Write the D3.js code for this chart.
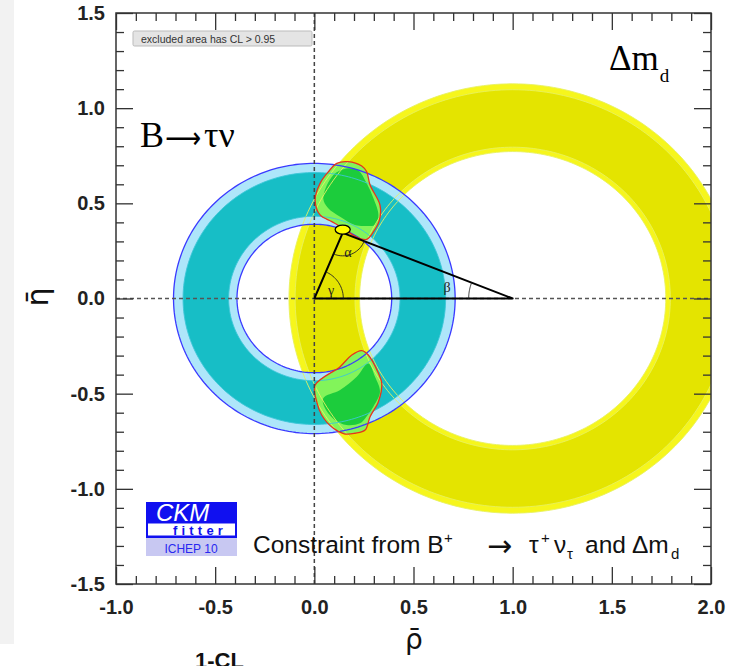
<!DOCTYPE html>
<html>
<head>
<meta charset="utf-8">
<script src="https://cdn.jsdelivr.net/npm/d3@7"></script>
<style>
  body { margin: 0; background: #fff; }
  svg { display: block; }
  .axis text { font-family: "Liberation Sans", Arial, sans-serif; font-weight: bold; font-size: 20px; fill: #222; }
  .axis line { stroke: #333; stroke-width: 1.3; }
</style>
</head>
<body>
<div id="chart"></div>
<script>
// axis ticks
var rhoTicks = [-1.0, -0.5, 0.0, 0.5, 1.0, 1.5, 2.0];
var etaTicks = [-1.5, -1.0, -0.5, 0.0, 0.5, 1.0, 1.5];

// ring constraints: [2sig inner, 1sig inner, 1sig outer, 2sig outer]
var btaunuCenter = [0, 0];
var btaunuRadii = [0.39, 0.432, 0.662, 0.71];
var dmdCenter = [1, 0];
var dmdRadii = [0.772, 0.795, 1.097, 1.128];

// global fit apex and its error ellipse (half widths)
var apex = [0.143, 0.345];
var apexErr = [0.038, 0.024];

// global fit regions (rho, eta)
var upperOuter = [[0.113, 0.710], [0.170, 0.719], [0.239, 0.696], [0.264, 0.666], [0.281, 0.596],
  [0.331, 0.491], [0.328, 0.412], [0.298, 0.351], [0.264, 0.311], [0.214, 0.322], [0.146, 0.369],
  [0.088, 0.404], [0.029, 0.439], [0.004, 0.518], [0.029, 0.605], [0.071, 0.666]];
var upperInner = [[0.045, 0.527], [0.096, 0.649], [0.171, 0.684], [0.222, 0.672], [0.264, 0.605],
  [0.298, 0.527], [0.323, 0.439], [0.306, 0.386], [0.264, 0.381], [0.205, 0.386], [0.130, 0.430],
  [0.069, 0.476]];
var lowerOuter = [[0.004, -0.455], [0.130, -0.358], [0.189, -0.297], [0.239, -0.274], [0.272, -0.297],
  [0.323, -0.393], [0.340, -0.446], [0.323, -0.542], [0.281, -0.621], [0.256, -0.691], [0.205, -0.708],
  [0.155, -0.712], [0.096, -0.682], [0.037, -0.612], [0.012, -0.542]];
var lowerInner = [[0.045, -0.524], [0.130, -0.481], [0.214, -0.411], [0.272, -0.341], [0.306, -0.411],
  [0.331, -0.490], [0.298, -0.568], [0.256, -0.630], [0.230, -0.656], [0.163, -0.665], [0.104, -0.638],
  [0.054, -0.577]];

var W = 736, H = 666;
var frame = { left: 116, right: 711, top: 13, bottom: 584 };

var svg = d3.select("#chart").append("svg")
  .attr("width", W)
  .attr("height", H);

// slide background strip on the left
svg.append("rect").attr("x", 0).attr("y", 0).attr("width", 14).attr("height", 644).attr("fill", "#f2f2f2");

var x = d3.scaleLinear().domain([-1, 2]).range([frame.left, frame.right]);
var y = d3.scaleLinear().domain([-1.5, 1.5]).range([frame.bottom, frame.top]);

svg.append("defs").append("clipPath").attr("id", "plotclip")
  .append("rect")
  .attr("x", frame.left).attr("y", frame.top)
  .attr("width", frame.right - frame.left).attr("height", frame.bottom - frame.top);

var plot = svg.append("g").attr("clip-path", "url(#plotclip)");

function circlePath(c, r) {
  var pts = d3.range(0, 360, 1.5).map(function(a) {
    var t = a * Math.PI / 180;
    return [x(c[0] + r * Math.cos(t)), y(c[1] + r * Math.sin(t))];
  });
  return d3.line()(pts) + "Z";
}
function ringPath(c, r0, r1) {
  return circlePath(c, r1) + circlePath(c, r0);
}
var blob = d3.line()
  .x(function(d) { return x(d[0]); })
  .y(function(d) { return y(d[1]); })
  .curve(d3.curveCatmullRomClosed);

// Delta m_d ring
plot.append("path").attr("d", ringPath(dmdCenter, dmdRadii[0], dmdRadii[3]))
  .attr("fill", "#f6f61c").attr("fill-rule", "evenodd");
plot.append("path").attr("d", ringPath(dmdCenter, dmdRadii[1], dmdRadii[2]))
  .attr("fill", "#e4e400").attr("fill-rule", "evenodd");

// B -> tau nu ring
plot.append("path").attr("d", ringPath(btaunuCenter, btaunuRadii[0], btaunuRadii[3]))
  .attr("fill", "#aee6fa").attr("fill-rule", "evenodd");
plot.append("path").attr("d", ringPath(btaunuCenter, btaunuRadii[1], btaunuRadii[2]))
  .attr("fill", "#17bec6").attr("fill-rule", "evenodd");

// global fit regions
[upperOuter, lowerOuter].forEach(function(p) {
  plot.append("path").attr("d", blob(p)).attr("fill", "#82f45a");
});
[upperInner, lowerInner].forEach(function(p) {
  plot.append("path").attr("d", blob(p)).attr("fill", "#1ccc3c");
});

// contour lines
dmdRadii.forEach(function(r) {
  plot.append("path").attr("d", circlePath(dmdCenter, r))
    .attr("fill", "none").attr("stroke", "#e8f060").attr("stroke-width", 0.9);
});
[btaunuRadii[1], btaunuRadii[2]].forEach(function(r) {
  plot.append("path").attr("d", circlePath(btaunuCenter, r))
    .attr("fill", "none").attr("stroke", "#3cc6d8").attr("stroke-width", 0.9);
});
[btaunuRadii[0], btaunuRadii[3]].forEach(function(r) {
  plot.append("path").attr("d", circlePath(btaunuCenter, r))
    .attr("fill", "none").attr("stroke", "#3a3aff").attr("stroke-width", 1.3);
});
[upperOuter, lowerOuter].forEach(function(p) {
  plot.append("path").attr("d", blob(p)).attr("fill", "none")
    .attr("stroke", "#e8331c").attr("stroke-width", 1.3);
});

// dashed axes
plot.append("line").attr("x1", x(0)).attr("x2", x(0)).attr("y1", frame.top).attr("y2", frame.bottom)
  .attr("stroke", "#444").attr("stroke-width", 1.5).attr("stroke-dasharray", "4,3");
plot.append("line").attr("x1", frame.left).attr("x2", frame.right).attr("y1", y(0)).attr("y2", y(0))
  .attr("stroke", "#555").attr("stroke-width", 1.5).attr("stroke-dasharray", "4,3");

// unitarity triangle
var tri = [[0, 0], [1, 0], apex];
plot.append("path")
  .attr("d", d3.line().x(function(d) { return x(d[0]); }).y(function(d) { return y(d[1]); })(tri) + "Z")
  .attr("fill", "none").attr("stroke", "#000").attr("stroke-width", 2).attr("stroke-linejoin", "round");

// angle arcs
function angleArc(c, rpx, a0, a1) {
  var cx = x(c[0]), cy = y(c[1]);
  var pts = d3.range(0, 1.0001, 0.05).map(function(f) {
    var a = a0 + (a1 - a0) * f;
    return [cx + rpx * Math.cos(a), cy - rpx * Math.sin(a)];
  });
  return d3.line()(pts);
}
function pxAngle(from, to) {
  return Math.atan2(y(from[1]) - y(to[1]), x(to[0]) - x(from[0]));
}
var gArc = plot.append("g").attr("fill", "none").attr("stroke", "#222").attr("stroke-width", 0.9);
gArc.append("path").attr("d", angleArc([0, 0], 29, 0, pxAngle([0, 0], apex)));
gArc.append("path").attr("d", angleArc([1, 0], 44, Math.PI, pxAngle([1, 0], apex)));
gArc.append("path").attr("d", angleArc(apex, 23, pxAngle(apex, [0, 0]) + 2 * Math.PI, pxAngle(apex, [1, 0]) + 2 * Math.PI));

var greek = plot.append("g")
  .attr("font-family", "'Liberation Serif', 'Times New Roman', serif")
  .attr("font-size", 14).attr("fill", "#222").attr("text-anchor", "middle");
greek.append("text").attr("x", 331).attr("y", 295).text("γ");
greek.append("text").attr("x", 348).attr("y", 257).text("α");
greek.append("text").attr("x", 447).attr("y", 292).text("β");

// apex ellipse
plot.append("ellipse")
  .attr("cx", x(apex[0])).attr("cy", y(apex[1] + 0.017))
  .attr("rx", x(apexErr[0]) - x(0)).attr("ry", y(0) - y(apexErr[1]))
  .attr("fill", "#ffff00").attr("stroke", "#000").attr("stroke-width", 1.3);

// axes: major and minor ticks on all four sides
function addAxis(axisFn, scale, major, transform, labels, pad) {
  var minor = scale.ticks(30).filter(function(v) {
    return Math.abs(v * 2 - Math.round(v * 2)) > 1e-6;
  });
  svg.append("g").attr("class", "axis").attr("transform", transform)
    .call(axisFn(scale).tickValues(minor).tickSizeInner(-8).tickSizeOuter(0).tickFormat(""))
    .select(".domain").remove();
  var g = svg.append("g").attr("class", "axis").attr("transform", transform)
    .call(axisFn(scale).tickValues(major).tickSizeInner(-17).tickSizeOuter(0).tickPadding(pad)
      .tickFormat(labels ? function(d) { return d.toFixed(1); } : ""));
  g.select(".domain").remove();
  return g;
}
addAxis(d3.axisBottom, x, rhoTicks, "translate(0," + frame.bottom + ")", true, 16);
addAxis(d3.axisTop, x, rhoTicks, "translate(0," + frame.top + ")", false, 0);
addAxis(d3.axisLeft, y, etaTicks, "translate(" + frame.left + ",0)", true, 11);
addAxis(d3.axisRight, y, etaTicks, "translate(" + frame.right + ",0)", false, 0);

svg.append("rect")
  .attr("x", frame.left).attr("y", frame.top)
  .attr("width", frame.right - frame.left).attr("height", frame.bottom - frame.top)
  .attr("fill", "none").attr("stroke", "#333").attr("stroke-width", 1.5);

// axis titles
svg.append("text")
  .attr("transform", "translate(48,297) rotate(-90)")
  .attr("text-anchor", "middle")
  .attr("font-family", "'DejaVu Sans', sans-serif").attr("font-size", 30).attr("fill", "#111")
  .text("η\u0304");
svg.append("text")
  .attr("x", 414).attr("y", 649)
  .attr("text-anchor", "middle")
  .attr("font-family", "'DejaVu Sans', sans-serif").attr("font-size", 28).attr("fill", "#111")
  .text("ρ\u0304");
svg.append("text")
  .attr("x", 195).attr("y", 668)
  .attr("font-family", "'Liberation Sans', Arial, sans-serif").attr("font-weight", "bold")
  .attr("font-size", 22).attr("fill", "#111")
  .text("1-CL");

// CL note box
svg.append("rect").attr("x", 133).attr("y", 31).attr("width", 179).attr("height", 15)
  .attr("fill", "#e4e4e4").attr("stroke", "#bbb").attr("stroke-width", 1).attr("rx", 1.5);
svg.append("text").attr("x", 141).attr("y", 42.5)
  .attr("font-family", "'Liberation Sans', Arial, sans-serif").attr("font-size", 10.5).attr("fill", "#333")
  .text("excluded area has CL > 0.95");

// constraint labels
var serif = "'Liberation Serif', 'Times New Roman', serif";
var bt = svg.append("text").attr("x", 140).attr("y", 147)
  .attr("font-family", serif).attr("font-size", 36).attr("fill", "#000");
bt.append("tspan").text("B");
bt.append("tspan").attr("x", 165).attr("font-family", "'DejaVu Sans', sans-serif").attr("font-size", 30)
  .attr("dy", 1).attr("textLength", 36).attr("lengthAdjust", "spacingAndGlyphs").text("⟶");
bt.append("tspan").attr("x", 204).attr("dy", -1).text("τν");
var dm = svg.append("text").attr("x", 609).attr("y", 70)
  .attr("font-family", serif).attr("font-size", 35).attr("fill", "#000");
dm.append("tspan").text("Δm");
dm.append("tspan").attr("font-size", 19).attr("dy", 12).attr("dx", 1).text("d");

// caption
var cap = svg.append("text").attr("x", 253).attr("y", 553)
  .attr("font-family", "'Liberation Sans', Arial, sans-serif").attr("font-size", 24.5).attr("fill", "#111");
cap.append("tspan").text("Constraint from B");
cap.append("tspan").attr("x", 444).attr("font-size", 15).attr("dy", -10).text("+");
cap.append("tspan").attr("x", 487).attr("font-family", "'DejaVu Sans', sans-serif").attr("font-size", 30)
  .attr("dy", 13).text("→");
cap.append("tspan").attr("x", 529).attr("dy", -3).text("τ");
cap.append("tspan").attr("x", 541).attr("font-size", 15).attr("dy", -10).text("+");
cap.append("tspan").attr("x", 554).attr("dy", 10).text("ν");
cap.append("tspan").attr("x", 567).attr("font-size", 15).attr("dy", 6).text("τ");
cap.append("tspan").attr("x", 585).attr("dy", -6).text("and");
cap.append("tspan").attr("x", 632).text("Δm");
cap.append("tspan").attr("x", 671).attr("font-size", 15).attr("dy", 6).text("d");

// CKMfitter logo
var logo = svg.append("g");
logo.append("rect").attr("x", 146).attr("y", 502).attr("width", 91).attr("height", 36).attr("fill", "#1010f0");
logo.append("rect").attr("x", 148).attr("y", 523.5).attr("width", 87).attr("height", 12).attr("fill", "#fff");
logo.append("rect").attr("x", 146).attr("y", 538).attr("width", 91).attr("height", 18).attr("fill", "#c8c8f2");
logo.append("text").attr("x", 156).attr("y", 521)
  .attr("font-family", "'Liberation Sans', Arial, sans-serif").attr("font-style", "italic")
  .attr("font-size", 24).attr("fill", "#fff").text("CKM");
logo.append("text").attr("x", 173).attr("y", 534.5)
  .attr("font-family", "'Liberation Sans', Arial, sans-serif").attr("font-weight", "bold")
  .attr("font-size", 13).attr("letter-spacing", 4.2).attr("fill", "#1010f0").text("fitter");
logo.append("text").attr("x", 191).attr("y", 552.5).attr("text-anchor", "middle")
  .attr("font-family", "'Liberation Sans', Arial, sans-serif")
  .attr("font-size", 12).attr("fill", "#2828f0").text("ICHEP 10");
</script>
</body>
</html>
